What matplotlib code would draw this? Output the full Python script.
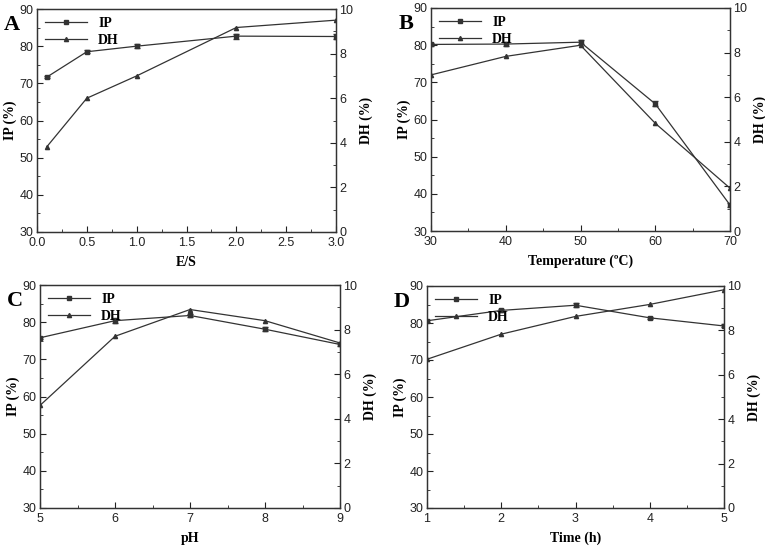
import matplotlib
matplotlib.use("Agg")
import matplotlib.pyplot as plt
from matplotlib.lines import Line2D
from matplotlib.ticker import MultipleLocator, AutoMinorLocator

# --- data ---
es = [0.1, 0.5, 1.0, 2.0, 3.0]
es_ip = [71.7, 78.5, 80.0, 82.7, 82.6]
es_ip_err = [0.3, 0.4, 0.6, 0.7, 0.8]
es_dh = [3.83, 6.0, 7.0, 9.17, 9.5]

temp = [30, 40, 50, 60, 70]
temp_ip = [80.2, 80.3, 80.8, 64.2, 37.0]
temp_ip_err = [0.3, 0.5, 0.5, 0.7, 0.6]
temp_dh = [7.0, 7.83, 8.33, 4.83, 1.92]

ph = [5, 6, 7, 8, 9]
ph_ip = [75.8, 80.4, 81.8, 78.1, 74.0]
ph_ip_err = [0.3, 0.7, 0.5, 0.5, 0.4]
ph_dh = [4.6, 7.7, 8.9, 8.4, 7.4]

time_h = [1, 2, 3, 4, 5]
time_ip = [80.6, 83.4, 84.8, 81.4, 79.2]
time_ip_err = [0.3, 0.3, 0.5, 0.3, 0.4]
time_dh = [6.7, 7.83, 8.63, 9.17, 9.83]

panels = [
    ("A", es, es_ip, es_ip_err, es_dh, "E/S", (0, 3), 0.5, "{x:.1f}"),
    ("B", temp, temp_ip, temp_ip_err, temp_dh, "Temperature (\u00baC)", (30, 70), 10, "{x:.0f}"),
    ("C", ph, ph_ip, ph_ip_err, ph_dh, "pH", (5, 9), 1, "{x:.0f}"),
    ("D", time_h, time_ip, time_ip_err, time_dh, "Time (h)", (1, 5), 1, "{x:.0f}"),
]

# axes boxes in pixel coords (left, top, right, bottom)
boxes = [(37, 9, 336, 232), (431, 8, 730, 231), (40, 285, 340, 508), (427, 286, 724, 508)]

W, H = 765, 546
fig = plt.figure(figsize=(W / 100, H / 100), dpi=100)

serif = "Liberation Serif"
sans = "Liberation Sans"
col = "#333333"

for (letter, x, ip, ip_err, dh, xlabel, xlim, xstep, fmt), (l, t, r, b) in zip(panels, boxes):
    ax = fig.add_axes([l / W, 1 - b / H, (r - l) / W, (b - t) / H])
    ax2 = ax.twinx()

    ax.errorbar(x, ip, yerr=ip_err, color=col, lw=0.9, marker="s", ms=3,
                capsize=2, elinewidth=0.7)
    ax2.plot(x, dh, color=col, lw=0.9, marker="^", ms=3)

    ax.set_xlim(*xlim)
    ax.set_ylim(30, 90)
    ax2.set_ylim(0, 10)
    ax.xaxis.set_major_locator(MultipleLocator(xstep))
    ax.xaxis.set_major_formatter(fmt)
    ax.xaxis.set_minor_locator(AutoMinorLocator(2))
    ax.yaxis.set_major_locator(MultipleLocator(10))
    ax.yaxis.set_minor_locator(AutoMinorLocator(2))
    ax2.yaxis.set_major_locator(MultipleLocator(2))
    ax2.yaxis.set_minor_locator(AutoMinorLocator(2))

    for a in (ax, ax2):
        a.tick_params(which="both", direction="in", labelsize=9, colors="#222222", pad=2.5)
        a.tick_params(which="major", length=4)
        a.tick_params(which="minor", length=2.5)
        for lab in a.get_xticklabels() + a.get_yticklabels():
            lab.set_fontfamily(sans)
        for s in a.spines.values():
            s.set_color("#333333")
            s.set_linewidth(0.9)
    ax.tick_params(axis="x", pad=3.5)

    ax.set_xlabel(xlabel, fontfamily=serif, fontweight="bold", fontsize=10, labelpad=5)
    ax.set_ylabel("IP (%)", fontfamily=serif, fontweight="bold", fontsize=10, labelpad=2)
    ax2.set_ylabel("DH (%)", fontfamily=serif, fontweight="bold", fontsize=10, labelpad=4)

    ax.text(-0.085, 0.93, letter, transform=ax.transAxes, fontfamily=serif,
            fontweight="bold", fontsize=16, ha="center", va="center")

    handles = [Line2D([], [], color=col, lw=0.9, marker="s", ms=3),
               Line2D([], [], color=col, lw=0.9, marker="^", ms=3)]
    ax.legend(handles, ["IP", "DH"], loc="upper left", frameon=False, handlelength=3,
              borderaxespad=0.2, labelspacing=0.25,
              prop={"family": serif, "weight": "bold", "size": 10})

fig.savefig("out.png", dpi=100)
